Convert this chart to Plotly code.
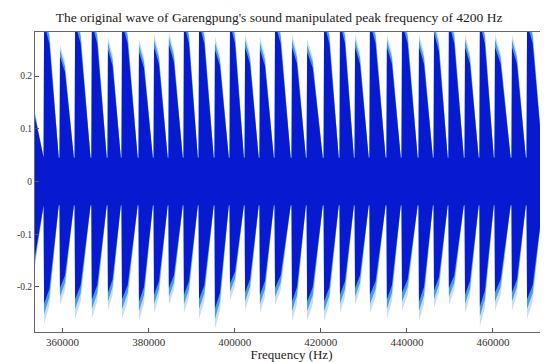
import plotly.graph_objects as go

# ---- data ----
title_text = "The original wave of Garengpung's sound manipulated peak frequency of 4200 Hz"
x_tick_vals = [360000, 380000, 400000, 420000, 440000, 460000]
x_tick_text = ["360000", "380000", "400000", "420000", "440000", "460000"]
y_tick_vals = [0.2, 0.1, 0.0, -0.1, -0.2]
y_tick_text = ["0.2", "0.1", "0", "-0.1", "-0.2"]

# onset of each pulse (Hz)
pulse_onsets = [352100, 355600, 359300, 362800, 366700, 370450, 373700, 377650, 381150,
                384600, 388100, 391600, 395300, 398800, 402300, 405750, 409250, 413200,
                416700, 420650, 424350, 427850, 431300, 435250, 438750, 442700, 446200,
                449650, 453400, 456850, 460350, 464300, 467800, 471750]
# positive peak amplitude of each pulse (outer, faint extent)
pulse_top = [0.16, 0.33, 0.26, 0.33, 0.33, 0.275, 0.33, 0.27, 0.28, 0.285, 0.33, 0.33,
             0.275, 0.33, 0.28, 0.275, 0.33, 0.28, 0.27, 0.33, 0.33, 0.28, 0.33, 0.28,
             0.33, 0.28, 0.31, 0.33, 0.28, 0.33, 0.28, 0.28, 0.33, 0.31]
# negative peak amplitude of each pulse (outer, faint extent, magnitude)
pulse_bottom = [0.2, 0.27, 0.235, 0.26, 0.26, 0.245, 0.26, 0.265, 0.25, 0.235, 0.25,
                0.26, 0.28, 0.225, 0.245, 0.25, 0.235, 0.265, 0.265, 0.265, 0.25, 0.235,
                0.25, 0.26, 0.245, 0.265, 0.24, 0.235, 0.25, 0.275, 0.245, 0.245, 0.26, 0.26]
noise_band = 0.045  # amplitude of the continuous background band

# ---- pulse envelope template (style) ----
shape_frac = [0.0, 0.03, 0.36, 0.95]
shape_weight = [0.0, 1.0, 0.85, 0.0]


def envelope(scale_top, scale_bot):
    xs, up, lo = [], [], []
    for i, o in enumerate(pulse_onsets):
        if i + 1 < len(pulse_onsets):
            nxt = pulse_onsets[i + 1]
        else:
            nxt = o + (o - pulse_onsets[i - 1])
        T = nxt - o
        pt = pulse_top[i] * scale_top
        pb = pulse_bottom[i] * scale_bot
        for f, w in zip(shape_frac, shape_weight):
            xs.append(o + f * T)
            up.append(noise_band + w * (pt - noise_band))
            lo.append(-(noise_band + w * (pb - noise_band)))
    xs.append(pulse_onsets[-1] + (pulse_onsets[-1] - pulse_onsets[-2]))
    up.append(noise_band)
    lo.append(-noise_band)
    return xs, up, lo


fig = go.Figure()
layers = [
    (1.00, 1.00, "rgb(200,220,242)"),
    (0.96, 0.93, "rgb(70,155,230)"),
    (0.91, 0.86, "rgb(8,26,208)"),
]
for st, sb, col in layers:
    xs, up, lo = envelope(st, sb)
    fig.add_trace(go.Scatter(x=xs, y=lo, mode="lines", line=dict(width=0, color=col),
                             hoverinfo="skip", showlegend=False))
    fig.add_trace(go.Scatter(x=xs, y=up, mode="lines", line=dict(width=0, color=col),
                             fill="tonexty", fillcolor=col, hoverinfo="skip", showlegend=False))

font_family = "Liberation Serif, Times New Roman, serif"
# page has an 8px body margin, so the figure is 540x354 placed at (8, 8)
fig.update_layout(
    width=540, height=354,
    margin=dict(l=27, r=0, t=24, b=30),
    paper_bgcolor="white", plot_bgcolor="white",
    title=dict(text=title_text, x=0.502, xanchor="center", y=0.975, yanchor="middle",
               yref="container", font=dict(family=font_family, size=13.5, color="#222")),
    font=dict(family=font_family, color="#333"),
)
fig.update_xaxes(range=[353600, 472780], tickvals=x_tick_vals, ticktext=x_tick_text,
                 ticks="inside", ticklen=4, tickcolor="#555", showgrid=False, zeroline=False,
                 showline=True, linecolor="#666", linewidth=1, mirror=True,
                 tickfont=dict(size=11, color="#333"),
                 title=dict(text="Frequency (Hz)", font=dict(size=13, color="#222"), standoff=0))
fig.update_yaxes(range=[-0.2856, 0.2837], tickvals=y_tick_vals, ticktext=y_tick_text,
                 ticks="inside", ticklen=4, tickcolor="#555", showgrid=False, zeroline=False,
                 showline=True, linecolor="#666", linewidth=1,
                 tickfont=dict(size=9.5, color="#333"))

fig.write_html("out.html")
